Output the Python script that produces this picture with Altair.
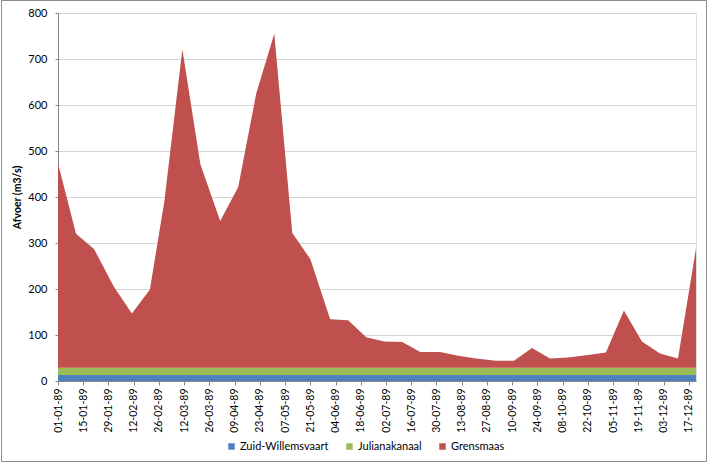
import altair as alt
import pandas as pd

# ---- data ----
dates = [
    "1989-01-01", "1989-01-11", "1989-01-21", "1989-02-01", "1989-02-11", "1989-02-21",
    "1989-03-01", "1989-03-11", "1989-03-21", "1989-04-01", "1989-04-11", "1989-04-21",
    "1989-05-01", "1989-05-11", "1989-05-21", "1989-06-01", "1989-06-11", "1989-06-21",
    "1989-07-01", "1989-07-11", "1989-07-21", "1989-08-01", "1989-08-11", "1989-08-21",
    "1989-09-01", "1989-09-11", "1989-09-21", "1989-10-01", "1989-10-11", "1989-10-21",
    "1989-11-01", "1989-11-11", "1989-11-21", "1989-12-01", "1989-12-11", "1989-12-21",
]
zuid_willemsvaart = [13, 13, 13, 13, 13, 13, 13, 13, 13, 13, 13, 13,
                     13, 13, 13, 13, 13, 13, 13, 13, 13, 13, 13, 13,
                     13, 13, 13, 13, 13, 13, 13, 13, 13, 13, 13, 13]
julianakanaal = [16, 16, 16, 16, 16, 16, 16, 16, 16, 16, 16, 16,
                 16, 16, 16, 16, 16, 16, 16, 16, 16, 16, 16, 16,
                 16, 16, 16, 16, 16, 16, 16, 16, 16, 16, 16, 16]
grensmaas = [444, 291, 258, 176, 118, 170, 361, 692, 442, 319, 393, 596,
             726, 293, 236, 105, 103, 66, 57, 56, 34, 34, 26, 20,
             15, 15, 43, 20, 22, 27, 33, 124, 57, 31, 20, 259]

series_names = ["Zuid-Willemsvaart", "Julianakanaal", "Grensmaas"]
series_colors = ["#4F81BD", "#9BBB59", "#C0504D"]
tick_labels = [
    "01-01-89", "15-01-89", "29-01-89", "12-02-89", "26-02-89", "12-03-89", "26-03-89",
    "09-04-89", "23-04-89", "07-05-89", "21-05-89", "04-06-89", "18-06-89", "02-07-89",
    "16-07-89", "30-07-89", "13-08-89", "27-08-89", "10-09-89", "24-09-89", "08-10-89",
    "22-10-89", "05-11-89", "19-11-89", "03-12-89", "17-12-89",
]
y_ticks = [0, 100, 200, 300, 400, 500, 600, 700, 800]

# ---- build long table ----
rows = []
for i, name in enumerate(series_names):
    vals = [zuid_willemsvaart, julianakanaal, grensmaas][i]
    for d, v in zip(dates, vals):
        rows.append({"datum": d, "reeks": name, "afvoer": v, "volgorde": i})
df = pd.DataFrame(rows)


def to_dt(lbl):
    dd, mm, yy = lbl.split("-")
    return alt.DateTime(year=1900 + int(yy), month=int(mm), date=int(dd), utc=True)


tick_values = [to_dt(t) for t in tick_labels]
d0 = dates[0].split("-")
d1 = dates[-1].split("-")
x_domain = [
    alt.DateTime(year=int(d0[0]), month=int(d0[1]), date=int(d0[2]), utc=True),
    alt.DateTime(year=int(d1[0]), month=int(d1[1]), date=int(d1[2]), utc=True),
]

FONT = "Lato"

area = alt.Chart(df).mark_area(interpolate="linear").encode(
    x=alt.X(
        "datum:T",
        scale=alt.Scale(type="utc", domain=x_domain, nice=False),
        axis=alt.Axis(
            values=tick_values,
            labelExpr="utcFormat(datum.value, '%d-%m-%y')",
            labelAngle=270, labelAlign="right", labelBaseline="middle",
            tickSize=4, labelPadding=3, grid=False, title=None,
            domainColor="#868686", tickColor="#868686",
            labelFont=FONT, labelFontSize=10.5, labelColor="#000000",
            labelOverlap=False,
        ),
    ),
    y=alt.Y(
        "afvoer:Q",
        stack="zero",
        scale=alt.Scale(domain=[0, 800], nice=False),
        axis=alt.Axis(
            values=y_ticks, title="Afvoer (m3/s)", grid=True,
            gridColor="#D4D4D4", gridWidth=1.2,
            tickSize=3, tickColor="#868686", domainColor="#868686",
            labelPadding=8, labelFont=FONT, labelFontSize=11, labelColor="#000000",
            titleFont=FONT, titleFontSize=10.5, titleFontWeight="bold",
            titleColor="#000000", titlePadding=5,
        ),
    ),
    color=alt.Color(
        "reeks:N",
        scale=alt.Scale(domain=series_names, range=series_colors),
        legend=alt.Legend(
            orient="none", legendX=168, legendY=428, direction="horizontal",
            gridAlign="none",
            title=None, symbolType="square", symbolSize=42, symbolStrokeWidth=0,
            labelFont=FONT, labelFontSize=11, labelColor="#000000",
            columnPadding=15, labelOffset=3,
        ),
    ),
    order=alt.Order("volgorde:Q", sort="ascending"),
)

frame = alt.Chart(pd.DataFrame({"k": [0]})).mark_rect(
    fill=None, stroke="#8C8C8C", strokeWidth=1
).encode(
    x=alt.value(-56.5), x2=alt.value(648.5),
    y=alt.value(-12.5), y2=alt.value(448.5),
)

chart = alt.layer(area, frame).properties(
    width=638, height=368,
    autosize=alt.AutoSizeParams(type="none"),
    padding={"left": 58, "top": 13, "right": 12, "bottom": 82},
).configure_view(stroke=None).configure(background="#FFFFFF")

chart.save("out.html", embed_options={"renderer": "svg", "actions": False})
